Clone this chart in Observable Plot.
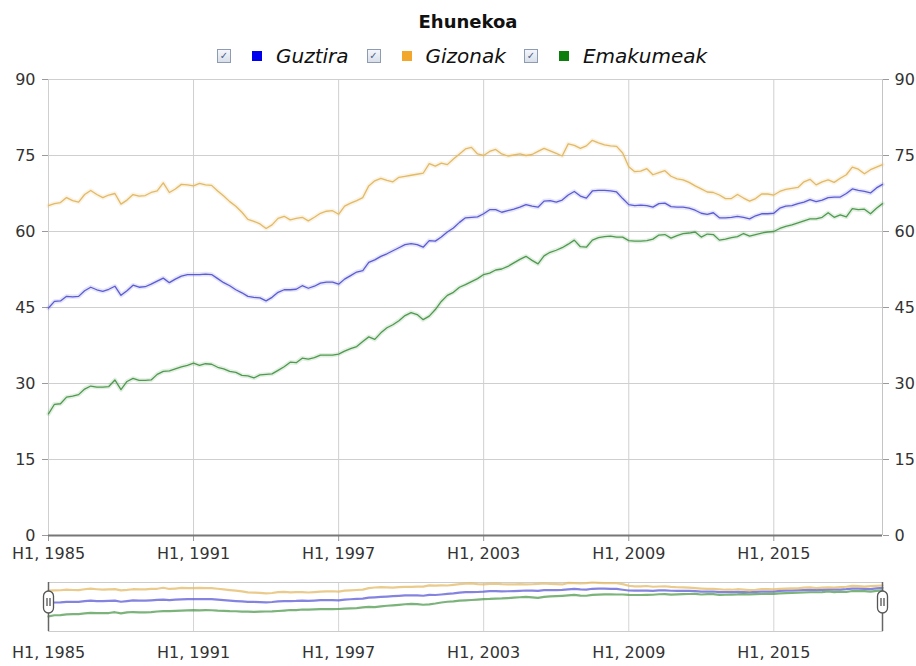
<!DOCTYPE html>
<html>
<head>
<meta charset="utf-8">
<script src="https://cdn.jsdelivr.net/npm/d3@7"></script>
<script src="https://cdn.jsdelivr.net/npm/@observablehq/plot@0.6"></script>
<style>
  html, body { margin: 0; padding: 0; background: #fff; }
  body { width: 916px; height: 666px; position: relative; overflow: hidden; font-family: "DejaVu Sans", sans-serif; }
  #title { position: absolute; left: 0; top: 13px; width: 936px; text-align: center; font-weight: bold; font-size: 18px; line-height: 18px; color: #111; }
  #legend { position: absolute; left: 217px; top: 46px; height: 20px; display: flex; align-items: center; font-size: 20px; line-height: 20px; font-style: italic; color: #111; white-space: nowrap; }
  .cb { width: 12px; height: 12px; border: 1px solid #8d9bb3; background: linear-gradient(#f4f6fb, #d9dfea); display: inline-flex; align-items: center; justify-content: center; font-size: 10px; font-style: normal; color: #4a5f8a; line-height: 10px; }
  .sw { width: 10px; height: 10px; display: inline-block; margin-left: 21px; margin-right: 14px; }
  .lab { margin-right: 18px; }
  #main { position: absolute; left: 0; top: 70px; }
  #nav { position: absolute; left: 0; top: 571px; }
</style>
</head>
<body>
<div id="title"></div>
<div id="legend"></div>
<div id="main"></div>
<div id="nav"></div>
<script>
// ---- Data (quarterly, from 1985 Q1) ----
const startYear = 1985;
const seriesNames = ["Guztira", "Gizonak", "Emakumeak"];
const lineColors = ["#5b5bd6", "#e3b964", "#4f9a4f"];
const legendColors = ["#0000ee", "#f2a72b", "#0d7d0d"];

const guztira = [
  44.9, 46.2, 46.3, 47.2, 47.1, 47.2, 48.3, 49.0, 48.5, 48.2,
  48.6, 49.2, 47.4, 48.3, 49.4, 49.0, 49.1, 49.6, 50.2, 50.8,
  49.9, 50.6, 51.2, 51.5, 51.5, 51.5, 51.6, 51.5, 50.7, 49.9,
  49.3, 48.5, 47.9, 47.2, 47.0, 46.9, 46.3, 47.0, 48.0, 48.5,
  48.5, 48.6, 49.3, 48.8, 49.2, 49.8, 50.0, 50.0, 49.6, 50.6,
  51.3, 52.0, 52.3, 53.9, 54.4, 55.1, 55.6, 56.2, 56.8, 57.4,
  57.6, 57.4, 56.9, 58.2, 58.1, 58.9, 59.9, 60.7, 61.8, 62.7,
  62.8, 62.9, 63.5, 64.3, 64.3, 63.8, 64.1, 64.4, 64.8, 65.3,
  65.0, 64.8, 66.0, 66.1, 65.8, 66.2, 67.2, 67.9, 67.0, 66.6,
  68.0, 68.1, 68.1, 68.0, 67.8, 66.5, 65.3, 65.1, 65.2, 65.1,
  64.8, 65.5, 65.6, 64.9, 64.8, 64.8, 64.6, 64.2, 63.6, 63.4,
  63.7, 62.7, 62.7, 62.8, 63.0, 62.8, 62.5, 63.1, 63.5, 63.5,
  63.6, 64.6, 65.0, 65.1, 65.5, 65.8, 66.3, 65.9, 66.2, 66.7,
  66.8, 66.8, 67.5, 68.4, 68.1, 67.9, 67.6, 68.6, 69.3
];
const gizonak = [
  65.1, 65.5, 65.7, 66.7, 66.1, 65.8, 67.3, 68.1, 67.3, 66.7,
  67.2, 67.5, 65.4, 66.2, 67.3, 67.0, 67.1, 67.7, 68.0, 69.6,
  67.7, 68.4, 69.3, 69.2, 69.0, 69.5, 69.2, 69.1, 68.0, 67.0,
  65.9, 65.0, 63.8, 62.4, 62.0, 61.5, 60.6, 61.3, 62.6, 63.0,
  62.3, 62.6, 62.8, 62.1, 62.8, 63.6, 64.0, 64.1, 63.4, 65.0,
  65.6, 66.1, 66.7, 69.0, 70.0, 70.5, 70.1, 69.8, 70.7, 70.9,
  71.1, 71.3, 71.5, 73.4, 72.9, 73.5, 73.2, 74.3, 75.3, 76.3,
  76.6, 75.3, 75.0, 75.8, 76.2, 75.3, 74.9, 75.1, 75.3, 75.0,
  75.2, 75.8, 76.4, 75.9, 75.4, 74.9, 77.3, 77.0, 76.4, 76.9,
  78.0, 77.5, 77.1, 76.9, 76.8, 75.5, 72.8, 71.8, 71.9, 72.4,
  71.2, 71.6, 72.0, 70.9, 70.4, 70.2, 69.7, 69.0, 68.4, 67.8,
  67.7, 67.2, 66.5, 66.5, 67.3, 66.6, 66.0, 66.5, 67.4, 67.4,
  67.2, 67.9, 68.3, 68.5, 68.7, 69.8, 70.3, 69.2, 69.8, 70.2,
  69.7, 70.5, 71.2, 72.7, 72.3, 71.4, 72.2, 72.7, 73.2
];
const emakumeak = [
  24.0, 25.9, 26.0, 27.3, 27.5, 27.8, 28.9, 29.5, 29.3, 29.3,
  29.4, 30.7, 28.8, 30.4, 31.0, 30.6, 30.6, 30.7, 31.8, 32.4,
  32.5, 32.9, 33.3, 33.6, 34.0, 33.6, 33.9, 33.8, 33.2, 32.9,
  32.4, 32.2, 31.6, 31.5, 31.1, 31.7, 31.8, 31.9, 32.6, 33.3,
  34.2, 34.1, 35.0, 34.8, 35.1, 35.6, 35.6, 35.6, 35.8, 36.4,
  36.9, 37.3, 38.3, 39.2, 38.7, 40.0, 41.0, 41.6, 42.4, 43.4,
  44.0, 43.6, 42.6, 43.3, 44.6, 46.2, 47.4, 48.0, 49.0, 49.5,
  50.1, 50.7, 51.5, 51.8, 52.4, 52.6, 53.1, 53.8, 54.5, 55.1,
  54.3, 53.6, 55.2, 55.9, 56.3, 56.8, 57.5, 58.3, 57.0, 56.9,
  58.3, 58.8, 59.0, 59.1, 58.9, 58.9, 58.2, 58.1, 58.1, 58.2,
  58.5, 59.3, 59.4, 58.7, 59.2, 59.6, 59.7, 59.9, 58.9, 59.5,
  59.4, 58.3, 58.5, 58.8, 59.0, 59.6, 59.1, 59.4, 59.7, 59.9,
  60.0, 60.6, 61.0, 61.3, 61.7, 62.1, 62.5, 62.5, 62.8, 63.7,
  62.8, 63.3, 62.9, 64.5, 64.3, 64.4, 63.5, 64.6, 65.5
];
const yTicks = [0, 15, 30, 45, 60, 75, 90];
const xTickYears = [1985, 1991, 1997, 2003, 2009, 2015];
const tickPrefix = "H1, ";
const subtitle = "Ehunekoa";

// ---- Build table ----
const N = guztira.length;
const dates = d3.range(N).map(i => new Date(Date.UTC(startYear + Math.floor(i / 4), (i % 4) * 3, 1)));
const allSeries = [guztira, gizonak, emakumeak];
const rows = allSeries.flatMap((vals, k) => vals.map((v, i) => ({date: dates[i], value: v, name: seriesNames[k]})));
const xTicks = xTickYears.map(y => new Date(Date.UTC(y, 0, 1)));
const fmt = d => tickPrefix + d.getUTCFullYear();
const xDomain = [dates[0], dates[N - 1]];
const colorScale = {domain: seriesNames, range: lineColors};

// ---- Title & legend ----
document.getElementById("title").textContent = subtitle;
const legend = document.getElementById("legend");
seriesNames.forEach((name, k) => {
  const cb = document.createElement("span"); cb.className = "cb"; cb.textContent = "✓";
  const sw = document.createElement("span"); sw.className = "sw"; sw.style.background = legendColors[k];
  const lab = document.createElement("span"); lab.className = "lab"; lab.textContent = name;
  legend.append(cb, sw, lab);
});

// ---- Main chart ----
const main = Plot.plot({
  width: 916, height: 500,
  marginLeft: 48, marginRight: 34, marginTop: 9, marginBottom: 35,
  style: {fontFamily: "DejaVu Sans", fontSize: "16px", color: "#333", background: "transparent", overflow: "visible"},
  x: {type: "utc", domain: xDomain},
  y: {domain: [0, 90]},
  color: colorScale,
  marks: [
    Plot.gridY(yTicks, {stroke: "#cfcfcf", strokeOpacity: 1}),
    Plot.gridX(xTicks, {stroke: "#cfcfcf", strokeOpacity: 1}),
    Plot.ruleX([xDomain[1]], {stroke: "#c4c4c4"}),
    Plot.axisY(yTicks, {anchor: "left", tickSize: 6, tickPadding: 7, label: null, stroke: "#9a9a9a", fill: "#333"}),
    Plot.axisY(yTicks, {anchor: "right", tickSize: 6, tickPadding: 6, label: null, stroke: "#9a9a9a", fill: "#333"}),
    Plot.axisX(xTicks, {anchor: "bottom", tickSize: 6, tickPadding: 6, tickFormat: fmt, label: null, stroke: "#9a9a9a", fill: "#333"}),
    Plot.ruleY([0], {stroke: "#777", strokeWidth: 2}),
    Plot.line(rows, {x: "date", y: "value", z: "name", stroke: "name", strokeWidth: 4.5, strokeOpacity: 0.16}),
    Plot.line(rows, {x: "date", y: "value", z: "name", stroke: "name", strokeWidth: 1.3})
  ]
});
document.getElementById("main").append(main);

// ---- Navigator ----
const handleSymbol = {
  draw(ctx) {
    ctx.moveTo(-5, -6);
    ctx.arc(0, -6, 5, Math.PI, 0);
    ctx.lineTo(5, 6);
    ctx.arc(0, 6, 5, 0, Math.PI);
    ctx.closePath();
    ctx.moveTo(-1.5, -4); ctx.lineTo(-1.5, 4);
    ctx.moveTo(1.5, -4); ctx.lineTo(1.5, 4);
  }
};
const navMax = d3.max(rows, d => d.value);
const nav = Plot.plot({
  width: 916, height: 95,
  marginLeft: 48, marginRight: 34, marginTop: 11, marginBottom: 35,
  style: {fontFamily: "DejaVu Sans", fontSize: "16px", color: "#333", background: "transparent", overflow: "visible"},
  x: {type: "utc", domain: xDomain},
  y: {domain: [0, navMax], axis: null},
  color: colorScale,
  marks: [
    Plot.gridX(xTicks, {stroke: "#d4d4d4", strokeOpacity: 1}),
    Plot.frame({stroke: "#cccccc"}),
    Plot.axisX(xTicks, {anchor: "bottom", tickSize: 0, tickPadding: 15, tickFormat: fmt, label: null, fill: "#333"}),
    Plot.line(rows, {x: "date", y: "value", z: "name", stroke: "name", strokeWidth: 2.2, strokeOpacity: 0.75}),
    Plot.ruleX(xDomain, {stroke: "#666", strokeWidth: 1.5}),
    Plot.dot(xDomain, {x: d => d, symbol: handleSymbol, fill: "white", stroke: "#555", strokeWidth: 1.3, dy: -5})
  ]
});
document.getElementById("nav").append(nav);
</script>
</body>
</html>
